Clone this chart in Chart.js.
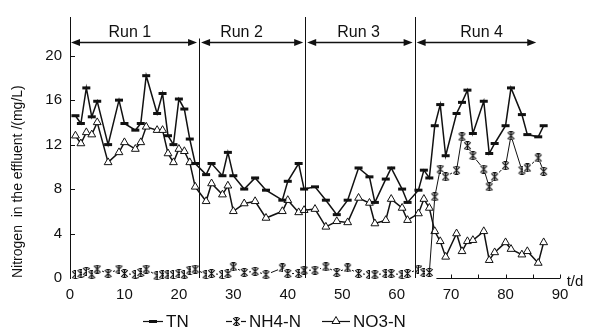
<!DOCTYPE html>
<html>
<head>
<meta charset="utf-8">
<script src="https://cdn.jsdelivr.net/npm/chart.js"></script>
<style>
html,body{margin:0;padding:0;background:#fff;}
#wrap{width:589px;height:333px;position:relative;}
</style>
</head>
<body>
<div id="wrap"><canvas id="c" width="589" height="333"></canvas></div>
<script>
// ---- data ----
const days = [1,2,3,4,5,7,9,10,12,13,14,16,17,18,19,20,21,22,23,
  25,26,28,29,30,32,34,36,39,40,42,43,45,
  47,49,51,53,55,56,58,59,61,62,64,65,66,
  67,68,69,71,72,73,74,76,77,78,80,81,83,84,86,87];
const tnValues = [14.6,13.9,17.1,14.5,15.9,12.0,16.0,13.9,13.3,13.9,18.2,14.8,16.6,12.8,12.0,16.1,15.2,12.5,10.3,
  9.3,10.3,9.2,11.3,9.2,8.0,9.0,7.9,7.0,8.7,10.3,8.0,8.2,
  7.0,5.7,7.0,9.9,9.1,6.8,8.9,9.9,8.0,6.8,7.9,9.7,9.0,
  13.7,15.6,11.0,14.8,15.8,16.9,13.0,15.9,11.2,12.1,13.7,17.1,14.7,12.9,12.7,13.7];
const nh4Values = [0.3,0.4,0.6,0.3,0.8,0.4,0.8,0.4,0.3,0.5,0.8,0.2,0.3,0.3,0.3,0.4,0.3,0.7,0.8,
  0.3,0.4,0.3,0.4,1.0,0.5,0.6,0.3,0.9,0.4,0.4,0.7,0.7,
  1.0,0.5,0.9,0.4,0.3,0.3,0.4,0.4,0.3,0.4,0.8,0.5,0.5,
  7.3,9.8,9.1,9.7,12.7,11.9,11.0,9.8,8.2,9.1,10.1,12.8,9.7,9.9,10.8,9.6];
const no3Values = [12.8,12.1,13.1,12.9,14.0,10.4,11.3,12.2,11.6,12.2,13.6,13.3,13.3,11.2,10.4,11.6,11.4,10.4,8.2,
  6.9,8.5,7.5,8.3,6.0,6.7,6.9,5.4,6.0,7.0,5.9,6.1,6.2,
  4.6,5.1,5.0,7.2,6.75,4.9,5.2,7.1,6.3,5.2,5.8,7.1,6.3,
  4.2,3.3,1.9,4.0,2.4,3.3,3.4,4.2,1.6,2.3,3.2,2.6,2.1,2.4,1.35,3.2];
const seriesNames = ['TN','NH4-N','NO3-N'];
const yTickValues = [0,4,8,12,16,20];
const xMinorTicks = [70,75,80,85,90];
const runNames = ['Run 1','Run 2','Run 3','Run 4'];
const runBounds = [0,23.7,43.2,63.3,86];
const runLabelDays = [11,31.5,53,75.6];
const yTitle = 'Nitrogen  in the effluent /(mg/L)';
const xUnit = 't/d';

const FONT = "'Liberation Sans', Arial, Helvetica, sans-serif";
const INK = '#111';

// asterisk-like marker (white backed) for NH4-N
function makeStar(){
  const c = document.createElement('canvas');
  c.width = 9; c.height = 9;
  const g = c.getContext('2d');
  g.fillStyle = '#fff'; g.fillRect(0,0,9,9);
  g.strokeStyle = INK; g.lineWidth = 1.2;
  g.beginPath();
  g.moveTo(1.2,1.2); g.lineTo(7.8,7.8);
  g.moveTo(7.8,1.2); g.lineTo(1.2,7.8);
  g.moveTo(4.5,0.3); g.lineTo(4.5,8.7);
  g.moveTo(2.5,0.6); g.lineTo(6.5,0.6);
  g.moveTo(2.5,8.4); g.lineTo(6.5,8.4);
  g.stroke();
  return c;
}
const starImg = makeStar();

const toXY = vals => days.map((d,i)=>({x:d, y:vals[i]}));

const decor = {
  id:'decor',
  afterDatasetsDraw(chart){
    const ctx = chart.ctx, xs = chart.scales.x, ys = chart.scales.y, a = chart.chartArea;
    ctx.save();
    ctx.strokeStyle = INK; ctx.fillStyle = INK; ctx.lineWidth = 1;
    // y ticks (inside)
    yTickValues.forEach(v=>{
      if (v===0) return;
      const py = Math.round(ys.getPixelForValue(v))+0.5;
      ctx.beginPath(); ctx.moveTo(a.left, py); ctx.lineTo(a.left+5, py); ctx.stroke();
    });
    // visible part of x axis
    const by = Math.round(a.bottom)+0.5;
    ctx.beginPath(); ctx.moveTo(xs.getPixelForValue(67.3), by); ctx.lineTo(a.right, by); ctx.stroke();
    xMinorTicks.forEach(v=>{
      const px = Math.round(xs.getPixelForValue(v))+0.5;
      ctx.beginPath(); ctx.moveTo(px, by); ctx.lineTo(px, by-4); ctx.stroke();
    });
    // run dividers and arrows
    const ay = Math.round(ys.getPixelForValue(21.2))+0.5;
    for (let i=1;i<runBounds.length-1;i++){
      const px = Math.round(xs.getPixelForValue(runBounds[i]))+0.5;
      ctx.beginPath(); ctx.moveTo(px, i===1 ? ay-4 : a.top); ctx.lineTo(px, a.bottom); ctx.stroke();
    }
    for (let i=0;i<runNames.length;i++){
      const x0 = xs.getPixelForValue(runBounds[i]) + (i===0?1:2);
      const x1 = xs.getPixelForValue(runBounds[i+1]) - 2;
      ctx.lineWidth = 1.3;
      ctx.beginPath(); ctx.moveTo(x0+4, ay); ctx.lineTo(x1-4, ay); ctx.stroke();
      ctx.beginPath(); ctx.moveTo(x0, ay); ctx.lineTo(x0+9, ay-3.5); ctx.lineTo(x0+9, ay+3.5); ctx.closePath(); ctx.fill();
      ctx.beginPath(); ctx.moveTo(x1, ay); ctx.lineTo(x1-9, ay-3.5); ctx.lineTo(x1-9, ay+3.5); ctx.closePath(); ctx.fill();
      ctx.font = '16px ' + FONT; ctx.textAlign = 'center'; ctx.textBaseline = 'middle';
      ctx.fillText(runNames[i], xs.getPixelForValue(runLabelDays[i]), ys.getPixelForValue(22.1));
    }
    // x unit
    ctx.font = '15px ' + FONT; ctx.textAlign = 'center'; ctx.textBaseline = 'middle';
    ctx.fillText(xUnit, 575, 282);
    // legend
    const ly = 321;
    ctx.font = '17px ' + FONT; ctx.textAlign = 'left'; ctx.textBaseline = 'middle';
    const items = [
      {x0:143, x1:163, tx:166, kind:'dash'},
      {x0:226, x1:246, tx:249, kind:'star'},
      {x0:322, x1:350, tx:353, kind:'tri'}
    ];
    items.forEach((it,k)=>{
      ctx.lineWidth = 1.2;
      ctx.beginPath(); ctx.moveTo(it.x0, ly+0.5); ctx.lineTo(it.x1, ly+0.5); ctx.stroke();
      const cx = (it.x0+it.x1)/2;
      if (it.kind==='dash'){
        ctx.fillRect(cx-4, ly-1, 8, 3);
      } else if (it.kind==='star'){
        ctx.drawImage(starImg, Math.round(cx-4.5), Math.round(ly-4));
      } else {
        ctx.fillStyle='#fff';
        ctx.beginPath(); ctx.moveTo(cx, ly-4.5); ctx.lineTo(cx+4, ly+2.5); ctx.lineTo(cx-4, ly+2.5); ctx.closePath();
        ctx.fill(); ctx.lineWidth=1; ctx.stroke(); ctx.fillStyle=INK;
      }
      ctx.fillText(seriesNames[k], it.tx, ly+1);
    });
    ctx.restore();
  }
};

new Chart(document.getElementById('c'), {
  type:'line',
  data:{
    datasets:[
      {label:seriesNames[0], data:toXY(tnValues), borderColor:INK, borderWidth:1.5,
       pointStyle:'line', pointRadius:4, pointBorderWidth:3, pointBorderColor:INK, pointBackgroundColor:INK,
       tension:0, clip:false},
      {label:seriesNames[1], data:toXY(nh4Values), borderColor:INK, borderWidth:1,
       pointStyle:starImg, pointRadius:4, tension:0, clip:false},
      {label:seriesNames[2], data:toXY(no3Values), borderColor:INK, borderWidth:1.5,
       pointStyle:'triangle', pointRadius:4.5, pointBorderWidth:1, pointBorderColor:INK, pointBackgroundColor:'#fff',
       tension:0, clip:false}
    ]
  },
  options:{
    responsive:false, animation:false, devicePixelRatio:1,
    layout:{padding:{top:8, right:29, bottom:0, left:0}},
    plugins:{legend:{display:false}, tooltip:{enabled:false}},
    scales:{
      x:{type:'linear', min:0, max:90,
         ticks:{stepSize:10, color:INK, font:{size:15, family:FONT}, padding:8, maxRotation:0},
         grid:{display:false, drawTicks:false}, border:{display:false},
         afterFit(s){ s.height = 55; }},
      y:{type:'linear', min:0, max:23.48,
         ticks:{stepSize:4, color:INK, font:{size:15, family:FONT}, padding:8},
         afterBuildTicks(s){ s.ticks = s.ticks.filter(t=>t.value<=20); },
         grid:{display:false, drawTicks:false}, border:{display:true, color:INK, width:1},
         title:{display:true, text:yTitle, color:INK, font:{size:14, family:FONT}, padding:{top:10,bottom:0}, align:'start'},
         afterFit(s){ s.width = 70; }}
    }
  },
  plugins:[decor]
});
</script>
</body>
</html>
